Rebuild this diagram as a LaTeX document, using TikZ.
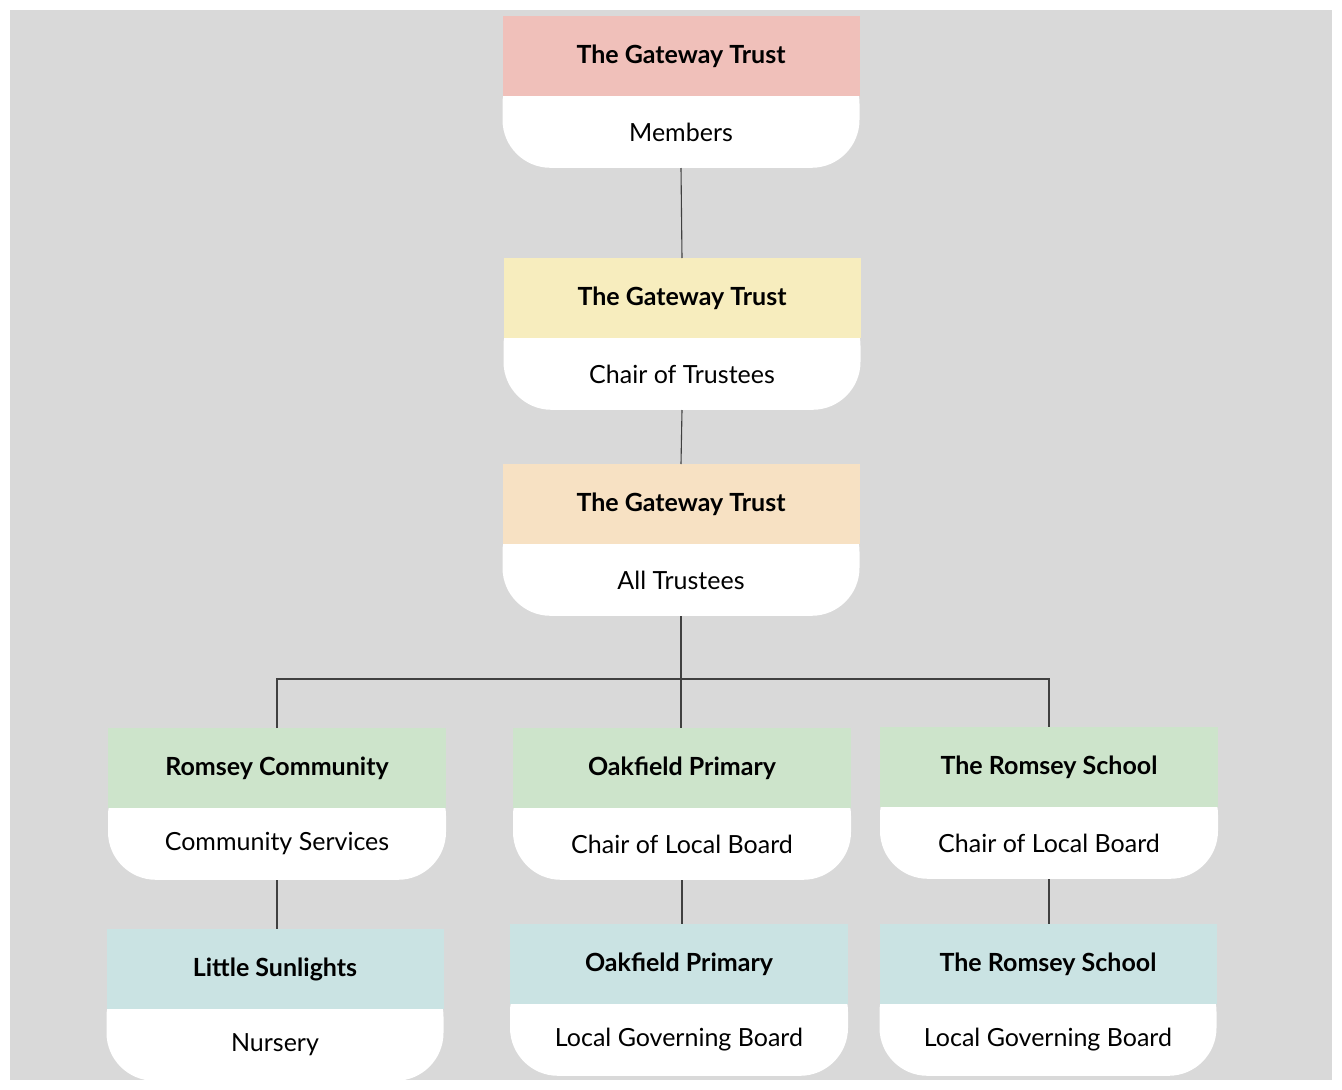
\documentclass[tikz,border=0pt]{standalone}
\usepackage{fontspec}
\setmainfont{Lato}
\usetikzlibrary{positioning,calc}
\definecolor{bgc}{HTML}{D9D9D9}
\definecolor{pinkc}{HTML}{F0C0BA}
\definecolor{yelc}{HTML}{F7EDBE}
\definecolor{peachc}{HTML}{F7E1C3}
\definecolor{greenc}{HTML}{CDE4CB}
\definecolor{bluec}{HTML}{CAE3E3}
\tikzstyle{head}=[anchor=north, minimum height=80, inner sep=0pt,
                  font=\fontsize{25}{30}\selectfont\bfseries]
\tikzstyle{body}=[anchor=south, fill=white, minimum height=112,
                  rounded corners=48, inner sep=0pt]
\tikzstyle{sub} =[font=\fontsize{25}{30}\selectfont, inner sep=0pt]
\tikzstyle{link}=[line width=1.1pt, black!75]
% name, centre x, top y, width, colour, title, subtitle
\newcommand{\orgunit}[7]{
  \node[body, minimum width=#4] (#1s) at (#2,#3+152) {};
  \node[head, minimum width=#4, fill=#5] (#1) at (#2,#3) {#6};
  \node[sub] (#1t) at (#2,#3+116) {#7};
}
\begin{document}
\begin{tikzpicture}[x=1pt, y=-1pt]
  \fill[white] (0,0) rectangle (1342,1090);
  \fill[bgc] (10,10) rectangle (1332,1080);
  \orgunit{mem}{681}{16}{357}{pinkc}{The Gateway Trust}{Members}
  \orgunit{chair}{682}{258}{357}{yelc}{The Gateway Trust}{Chair of Trustees}
  \orgunit{all}{681}{464}{357}{peachc}{The Gateway Trust}{All Trustees}
  \orgunit{rc}{277}{728}{338}{greenc}{Romsey Community}{Community Services}
  \orgunit{op}{682}{728}{338}{greenc}{Oakfield Primary}{Chair of Local Board}
  \orgunit{rs}{1049}{727}{338}{greenc}{The Romsey School}{Chair of Local Board}
  \orgunit{ls}{275}{929}{337}{bluec}{Little Sunlights}{Nursery}
  \orgunit{opb}{679}{924}{338}{bluec}{Oakfield Primary}{Local Governing Board}
  \orgunit{rsb}{1048}{924}{337}{bluec}{The Romsey School}{Local Governing Board}
  \coordinate (bar) at (0,679);
  \draw[link] (mems.south) -- (chair.north);
  \draw[link] (chairs.south) -- (all.north);
  \draw[link] (alls.south) -- (alls.south |- op.north);
  \draw[link] (rc.north) |- (bar -| rs.north) -- (rs.north);
  \draw[link] (rcs.south) -- (rcs.south |- ls.north);
  \draw[link] (ops.south) -- (ops.south |- opb.north);
  \draw[link] (rss.south) -- (rss.south |- rsb.north);
\end{tikzpicture}
\end{document}
